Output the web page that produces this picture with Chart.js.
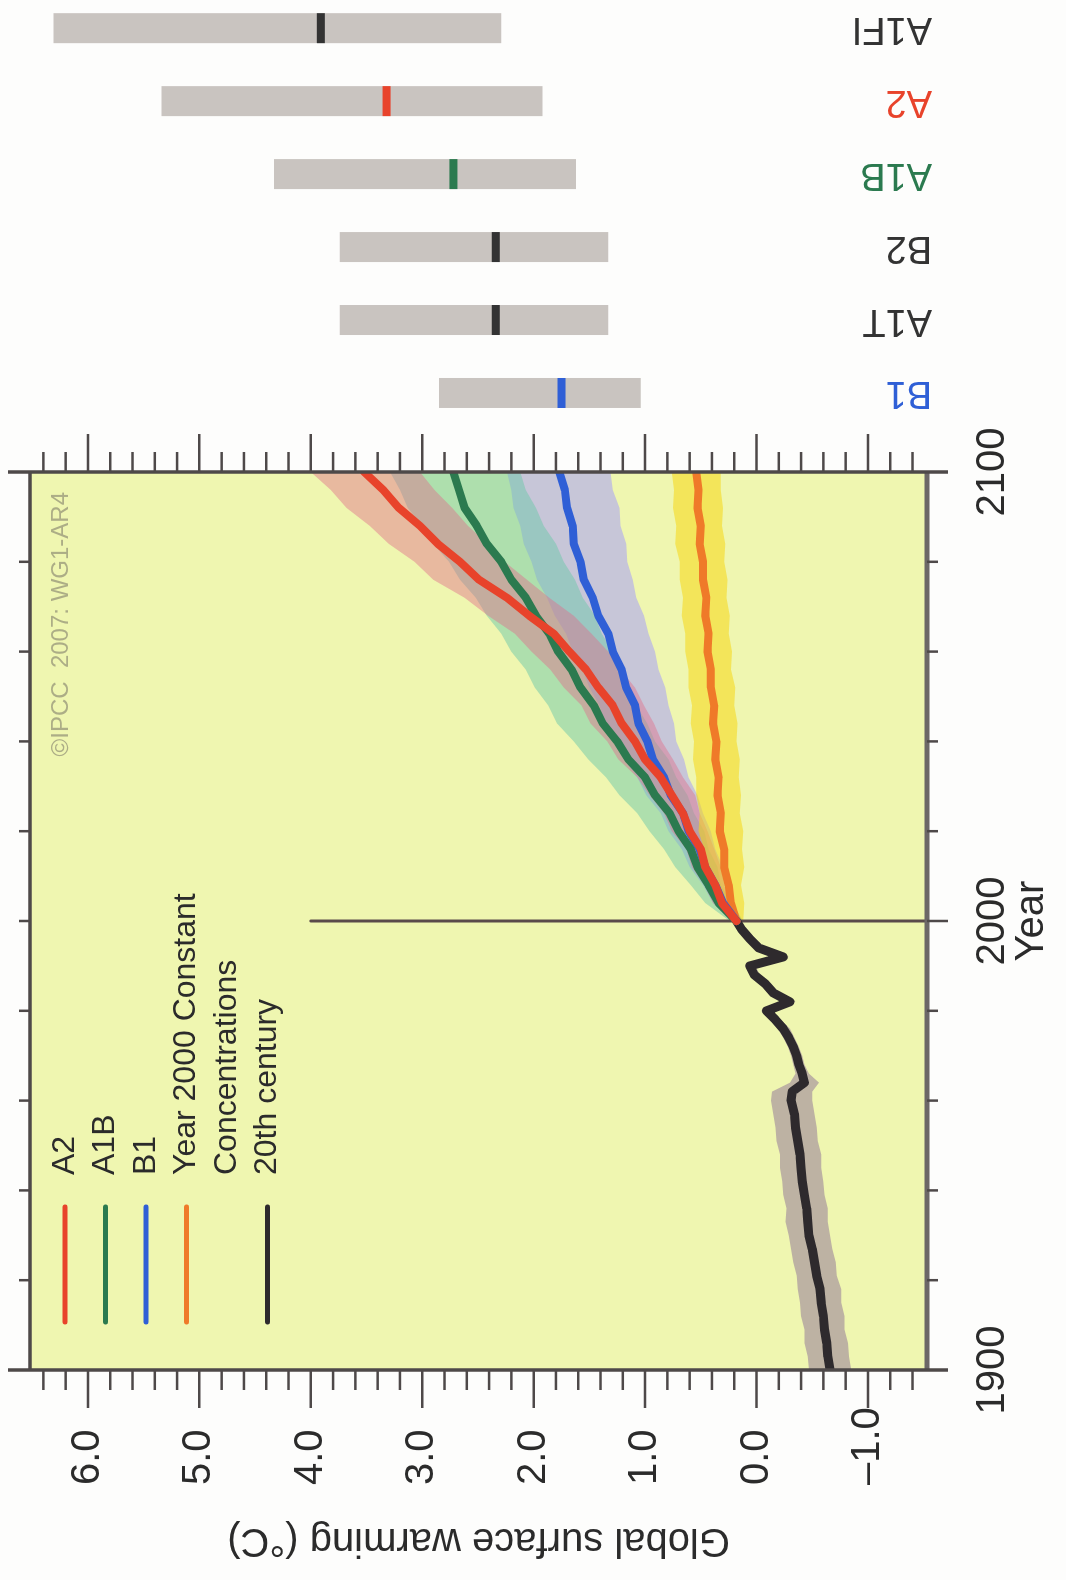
<!DOCTYPE html>
<html>
<head>
<meta charset="utf-8">
<title>Global surface warming</title>
<script src="https://cdn.jsdelivr.net/npm/chart.js@4.4.1/dist/chart.umd.min.js"></script>
<style>
  html, body { margin: 0; padding: 0; background: #fdfdfc; }
  body { width: 1066px; height: 1580px; overflow: hidden; position: relative; }
  /* the figure is drawn upright and turned a quarter turn, like the scanned page */
  #wrap { position: absolute; left: 0; top: 0; width: 1580px; height: 1066px;
          transform-origin: 0 0; transform: translateY(1580px) rotate(-90deg); }
</style>
</head>
<body>
<div id="wrap"><canvas id="chart" width="1580" height="1066"></canvas></div>
<script>
// 20th century run
const years20 = [1900,1903,1906,1909,1912,1915,1918,1921,1924,1927,1930,1933,1936,1939,1942,1945,1948,1951,1954,1957,1960,1962,1964,1966,1968,1970,1972,1974,1976,1978,1980,1982,1984,1986,1988,1990,1992,1994,1996,1998,2000];
const century20 = [-0.66,-0.64,-0.63,-0.61,-0.60,-0.58,-0.57,-0.54,-0.52,-0.50,-0.47,-0.46,-0.45,-0.43,-0.41,-0.40,-0.39,-0.37,-0.35,-0.34,-0.31,-0.32,-0.43,-0.41,-0.38,-0.36,-0.33,-0.29,-0.24,-0.17,-0.09,-0.30,-0.15,-0.08,0.02,0.06,-0.24,-0.02,0.06,0.13,0.18];
const century20Hi = [-0.47,-0.46,-0.43,-0.43,-0.40,-0.39,-0.37,-0.36,-0.33,-0.31,-0.29,-0.26,-0.27,-0.24,-0.23,-0.21,-0.21,-0.18,-0.17,-0.15,-0.13,-0.14,-0.30,-0.35,-0.33,-0.31,-0.28,-0.24,-0.19,-0.12,-0.04,-0.25,-0.10,-0.03,0.06,0.10,-0.19,0.02,0.10,0.17,0.21];
const century20Lo = [-0.85,-0.83,-0.82,-0.79,-0.79,-0.76,-0.76,-0.72,-0.71,-0.68,-0.66,-0.64,-0.64,-0.61,-0.60,-0.58,-0.58,-0.55,-0.54,-0.52,-0.50,-0.50,-0.56,-0.47,-0.43,-0.41,-0.38,-0.34,-0.30,-0.22,-0.14,-0.35,-0.20,-0.13,-0.03,0.01,-0.29,-0.07,0.01,0.08,0.15];

// scenario runs, 2000-2100
const years21 = [2000,2004,2008,2012,2016,2020,2024,2028,2032,2036,2040,2044,2048,2052,2056,2060,2064,2068,2072,2076,2080,2084,2088,2092,2096,2100];
const a2 = [0.18,0.31,0.37,0.46,0.50,0.60,0.66,0.76,0.86,1.00,1.09,1.21,1.29,1.42,1.53,1.68,1.82,2.04,2.24,2.49,2.66,2.86,3.02,3.21,3.35,3.52];
const a2Hi = [0.23,0.39,0.47,0.58,0.63,0.76,0.83,0.96,1.07,1.24,1.34,1.49,1.57,1.73,1.85,2.02,2.17,2.41,2.62,2.90,3.07,3.30,3.47,3.68,3.82,4.00];
const a2Lo = [0.13,0.23,0.29,0.32,0.38,0.44,0.51,0.55,0.66,0.75,0.85,0.92,1.01,1.09,1.22,1.33,1.48,1.64,1.86,2.06,2.26,2.41,2.59,2.73,2.89,3.02];
const a1b = [0.18,0.34,0.43,0.53,0.59,0.70,0.78,0.91,1.00,1.15,1.25,1.38,1.46,1.58,1.66,1.78,1.86,1.98,2.07,2.20,2.29,2.42,2.51,2.62,2.67,2.72];
const a1bHi = [0.24,0.46,0.59,0.73,0.83,0.96,1.07,1.23,1.35,1.51,1.64,1.79,1.87,1.99,2.07,2.20,2.29,2.42,2.52,2.66,2.76,2.90,3.00,3.13,3.20,3.29];
const a1bLo = [0.12,0.22,0.32,0.35,0.43,0.47,0.56,0.62,0.72,0.79,0.91,0.98,1.08,1.13,1.23,1.29,1.39,1.45,1.56,1.63,1.73,1.80,1.91,1.98,2.07,2.12];
const b1 = [0.18,0.30,0.37,0.46,0.51,0.61,0.66,0.77,0.83,0.93,0.98,1.06,1.09,1.17,1.21,1.29,1.33,1.42,1.47,1.55,1.58,1.64,1.65,1.70,1.72,1.77];
const b1Hi = [0.23,0.39,0.48,0.60,0.67,0.79,0.86,0.99,1.07,1.19,1.26,1.36,1.41,1.50,1.56,1.65,1.71,1.81,1.88,1.97,2.02,2.09,2.12,2.18,2.20,2.24];
const b1Lo = [0.13,0.21,0.28,0.30,0.37,0.41,0.48,0.53,0.61,0.65,0.72,0.74,0.79,0.82,0.88,0.91,0.97,1.01,1.08,1.11,1.16,1.17,1.22,1.23,1.29,1.31];
const constant = [0.18,0.23,0.25,0.29,0.29,0.33,0.32,0.35,0.34,0.37,0.36,0.39,0.38,0.41,0.41,0.44,0.43,0.46,0.45,0.48,0.48,0.51,0.50,0.53,0.52,0.54];
const constantHi = [0.24,0.33,0.38,0.45,0.47,0.52,0.51,0.54,0.54,0.57,0.56,0.59,0.58,0.61,0.61,0.64,0.64,0.67,0.66,0.69,0.69,0.73,0.72,0.75,0.74,0.76];
const constantLo = [0.12,0.11,0.14,0.11,0.13,0.12,0.15,0.14,0.16,0.15,0.18,0.17,0.20,0.19,0.23,0.22,0.25,0.24,0.27,0.26,0.29,0.28,0.31,0.30,0.32,0.32];

// likely ranges at 2090-2099, shown to the right of the plot
const scenarios = ['B1', 'A1T', 'B2', 'A1B', 'A2', 'A1FI'];
const scenarioSlots = [2117.6, 2133.85, 2150.1, 2166.35, 2182.6, 2198.85];
const likelyLow = [1.04, 1.33, 1.33, 1.62, 1.92, 2.29];
const likelyHigh = [2.85, 3.74, 3.74, 4.33, 5.34, 6.31];
const bestEstimate = [1.75, 2.34, 2.34, 2.72, 3.32, 3.91];

const legendNames = ['A2', 'A1B', 'B1', ['Year 2000 Constant', 'Concentrations'], '20th century'];
const refLine2000 = [4.0, -1.53];
const yMin = -1.53, yMax = 6.52;

const RED = '#e8432b', GREEN = '#2b7a4f', BLUE = '#2f5fd6', ORANGE = '#ef7a29', BLACK = '#2e2a2d';
const legendColors = [RED, GREEN, BLUE, ORANGE, BLACK];
const scenarioColors = [BLUE, '#333333', '#333333', GREEN, RED, '#333333'];
const FONT = "'Liberation Sans', Arial, Helvetica, sans-serif";
const TEXT = '#2b2b2b';

Chart.defaults.font.family = FONT;
Chart.defaults.color = TEXT;

const pts = (xs, ys) => xs.map((x, i) => ({x: x, y: ys[i]}));

function band(label, xs, hi, lo, color, order) {
  return [
    {label: label + ' hi', data: pts(xs, hi), borderWidth: 0, backgroundColor: color, fill: '+1', order: order},
    {label: label + ' lo', data: pts(xs, lo), borderWidth: 0, fill: false, order: order}
  ];
}

const frame = {
  id: 'frame',
  beforeDraw(chart) {
    const {ctx, chartArea: a} = chart;
    ctx.save();
    ctx.fillStyle = '#fdfdfc';
    ctx.fillRect(0, 0, chart.width, chart.height);
    ctx.fillStyle = '#eff6b0';
    ctx.fillRect(a.left, a.top, a.right - a.left, a.bottom - a.top);
    ctx.restore();
  },
  afterDatasetsDraw(chart) {
    const {ctx, chartArea: a, scales: {x, y}} = chart;
    const seg = (x1, y1, x2, y2) => { ctx.beginPath(); ctx.moveTo(x1, y1); ctx.lineTo(x2, y2); ctx.stroke(); };
    ctx.save();
    ctx.lineCap = 'butt';
    ctx.strokeStyle = '#4e4949';
    ctx.lineWidth = 3.5;
    seg(a.left, a.top, a.right, a.top);
    ctx.strokeStyle = '#6c6767';
    ctx.lineWidth = 5;
    seg(a.left, a.bottom, a.right, a.bottom);
    ctx.strokeStyle = '#4e4949';
    ctx.lineWidth = 3.5;
    [1900, 2100].forEach(yr => {
      const px = x.getPixelForValue(yr);
      seg(px, a.top - 22, px, a.bottom + 21);
    });
    ctx.lineWidth = 2.5;
    for (let yr = 1920; yr < 2100; yr += 20) {
      const px = x.getPixelForValue(yr);
      seg(px, a.top, px, a.top - 11);
      seg(px, a.bottom, px, a.bottom + (yr === 2000 ? 21 : 11));
    }
    for (let k = Math.ceil(y.min * 5); k <= Math.floor(y.max * 5); k++) {
      const py = y.getPixelForValue(k / 5);
      const len = k % 5 === 0 ? 38 : 20;
      seg(a.left, py, a.left - len, py);
      seg(a.right, py, a.right + len, py);
    }

    // legend
    ctx.lineCap = 'round';
    ctx.lineWidth = 5;
    ctx.font = '32px ' + FONT;
    ctx.textBaseline = 'middle';
    ctx.textAlign = 'left';
    let row = 0;
    legendNames.forEach((name, i) => {
      const py = a.top + 35 + row * 40.5;
      ctx.strokeStyle = legendColors[i];
      seg(a.left + 48, py, a.left + 163, py);
      ctx.fillStyle = TEXT;
      [].concat(name).forEach((line, j) => ctx.fillText(line, a.left + 195, py + j * 40.5));
      row += [].concat(name).length;
    });

    // copyright note
    ctx.font = '24px ' + FONT;
    ctx.fillStyle = 'rgba(150,148,120,0.75)';
    ctx.textAlign = 'right';
    ctx.fillText('\u00a9IPCC  2007: WG1-AR4', x.getPixelForValue(2100) - 20, a.top + 31);

    // scenario names under the range bars
    ctx.font = '38px ' + FONT;
    ctx.textAlign = 'left';
    scenarios.forEach((name, i) => {
      ctx.save();
      ctx.translate(x.getPixelForValue(scenarioSlots[i]), y.getPixelForValue(yMin) + 5);
      ctx.rotate(-Math.PI / 2);
      ctx.fillStyle = scenarioColors[i];
      ctx.fillText(name, 0, 0);
      ctx.restore();
    });
    ctx.restore();
  }
};

const datasets = [
  {label: 'A2', data: pts(years21, a2), borderColor: RED, borderWidth: 8, order: 1},
  {label: 'A1B', data: pts(years21, a1b), borderColor: GREEN, borderWidth: 8, order: 2},
  {label: 'B1', data: pts(years21, b1), borderColor: BLUE, borderWidth: 8, order: 3},
  {label: 'Year 2000 Constant Concentrations', data: pts(years21, constant), borderColor: ORANGE, borderWidth: 8, order: 4},
  {label: '20th century', data: pts(years20, century20), borderColor: BLACK, borderWidth: 9, order: 5},
  {label: '2000', data: [{x: 2000, y: refLine2000[0]}, {x: 2000, y: refLine2000[1]}], borderColor: '#5a4a4a', borderWidth: 3, order: 6},
  ...band('20th', years20, century20Hi, century20Lo, 'rgba(140,110,150,0.5)', 10),
  ...band('const', years21, constantHi, constantLo, 'rgba(245,215,20,0.55)', 11),
  ...band('A2', years21, a2Hi, a2Lo, 'rgba(225,110,140,0.45)', 12),
  ...band('A1B', years21, a1bHi, a1bLo, 'rgba(110,200,170,0.5)', 13),
  ...band('B1', years21, b1Hi, b1Lo, 'rgba(160,150,255,0.5)', 14),
  {type: 'bar', label: 'best estimate',
   data: scenarioSlots.map((s, i) => ({x: s, y: [bestEstimate[i] - 0.036, bestEstimate[i] + 0.036]})),
   backgroundColor: scenarioColors, grouped: false, maxBarThickness: 30, clip: false, order: 0},
  {type: 'bar', label: 'likely range',
   data: scenarioSlots.map((s, i) => ({x: s, y: [likelyLow[i], likelyHigh[i]]})),
   backgroundColor: '#c9c4c0', grouped: false, maxBarThickness: 30, clip: false, order: 20}
];

new Chart(document.getElementById('chart'), {
  type: 'line',
  data: {datasets: datasets},
  options: {
    responsive: false,
    animation: false,
    devicePixelRatio: 1,
    layout: {padding: {left: 95, right: 472, top: 30, bottom: 0}},
    elements: {
      point: {radius: 0},
      line: {tension: 0, borderJoinStyle: 'round', borderCapStyle: 'round'},
      bar: {borderWidth: 0, borderSkipped: false}
    },
    plugins: {legend: {display: false}, tooltip: {enabled: false}},
    scales: {
      x: {
        type: 'linear', min: 1900, max: 2100, offset: false,
        grid: {display: false, drawTicks: false},
        border: {display: false},
        ticks: {stepSize: 100, autoSkip: false, maxRotation: 0, padding: 42,
                font: {size: 40}, callback: v => String(v)},
        title: {display: true, text: 'Year', font: {size: 40}, padding: {top: 0, bottom: 10}},
        afterFit: s => { s.height = 139; }
      },
      y: {
        type: 'linear', min: yMin, max: yMax,
        grid: {display: false, drawTicks: false},
        border: {display: false},
        ticks: {stepSize: 1, includeBounds: false, crossAlign: 'far', font: {size: 40},
                callback: v => (v < 0 ? '\u2013' : '') + Math.abs(v).toFixed(1)},
        title: {display: true, text: 'Global surface warming (\u00b0C)', font: {size: 40}, padding: {top: -79, bottom: 0}},
        afterFit: s => { s.width = 115; s.paddingTop = 0; s.paddingBottom = 0; }
      }
    }
  },
  plugins: [frame]
});
</script>
</body>
</html>
